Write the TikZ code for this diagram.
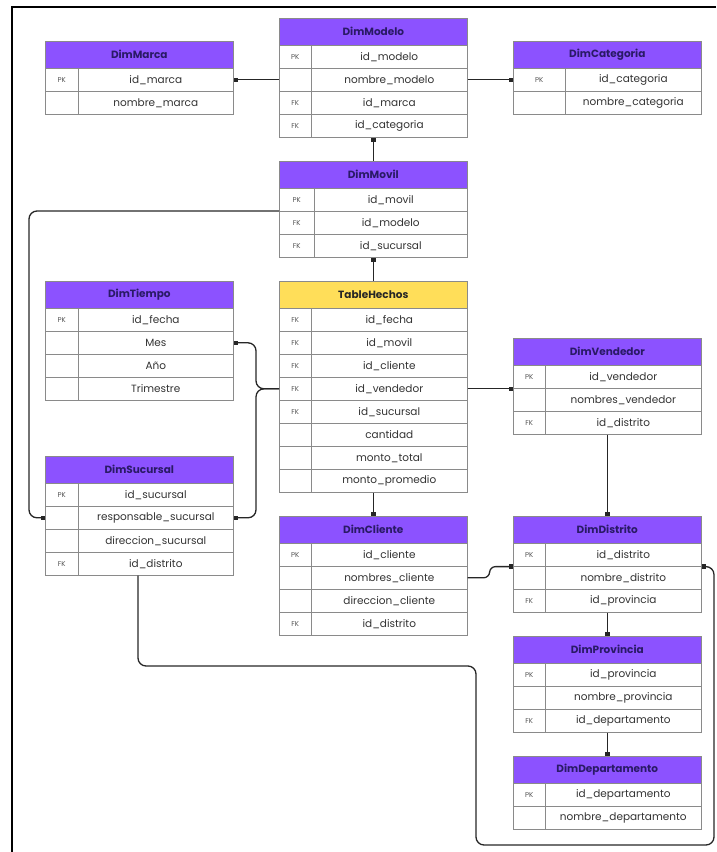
\documentclass[tikz,border=0pt]{standalone}
\usepackage{fontspec}
\setmainfont{Poppins}
\usetikzlibrary{arrows.meta,calc}
\definecolor{hdrpurple}{HTML}{8C52FF}
\definecolor{hdryellow}{HTML}{FFDE59}
\definecolor{hdrtext}{HTML}{2A1A66}
\definecolor{cellline}{HTML}{8A8A8A}
\definecolor{keytext}{HTML}{555555}
\definecolor{fieldtext}{HTML}{333333}
\tikzset{
 hdrcell/.style={draw=cellline, line width=0.6pt, minimum width=188pt, minimum height=27pt, inner sep=0pt, anchor=north west, font=\fontsize{10.5}{12}\selectfont\bfseries, text=hdrtext},
 keycell/.style={draw=cellline, line width=0.6pt, minimum height=23pt, inner sep=0pt, anchor=north west, font=\fontsize{7}{8}\selectfont, text=keytext, fill=white},
 fieldcell/.style={draw=cellline, line width=0.6pt, minimum height=23pt, inner sep=0pt, anchor=north west, font=\fontsize{10.5}{12}\selectfont, text=fieldtext, fill=white},
 link/.style={line width=1.3pt, black!85, rounded corners=8pt},
 dotA/.style={{Square[length=4.5pt,width=4.5pt]}-},
 dotB/.style={-{Square[length=4.5pt,width=4.5pt]}},
 frameline/.style={line width=2pt, black},
}
% #1 name, #2 x left, #3 y top, #4 key width, #5 header style, #6 title, #7 rows key/field
\newcommand{\ertable}[7]{%
 \node[hdrcell, #5] (#1) at (#2,#3) {#6};
 \foreach \k/\f [count=\i] in {#7} {%
   \pgfmathsetmacro{\yy}{#3+27+23*(\i-1)}%
   \pgfmathsetmacro{\xx}{#2+#4}%
   \pgfmathsetmacro{\ww}{188-#4}%
   \node[keycell, minimum width=#4pt] (#1-k\i) at (#2,\yy) {\k};
   \node[fieldcell, minimum width=\ww pt] (#1-\i) at (\xx,\yy) {\f};
 }%
}
\begin{document}
\begin{tikzpicture}[x=1pt,y=-1pt]
\useasboundingbox (0,0) rectangle (716,852);
\draw[frameline] (12,852) -- (12,7) -- (716,7);

\ertable{DimMarca}{45}{41}{33}{fill=hdrpurple}{DimMarca}{PK/id\_marca,{}/nombre\_marca}
\ertable{DimModelo}{279}{18}{32}{fill=hdrpurple}{DimModelo}{PK/id\_modelo,{}/nombre\_modelo,FK/id\_marca,FK/id\_categoria}
\ertable{DimCategoria}{513}{41}{52}{fill=hdrpurple}{DimCategoria}{PK/id\_categoria,{}/nombre\_categoria}
\ertable{DimMovil}{279}{161}{35}{fill=hdrpurple}{DimMovil}{PK/id\_movil,FK/id\_modelo,FK/id\_sucursal}
\ertable{Hechos}{279}{281}{32}{fill=hdryellow,text=black!85}{TableHechos}{FK/id\_fecha,FK/id\_movil,FK/id\_cliente,FK/id\_vendedor,FK/id\_sucursal,{}/cantidad,{}/monto\_total,{}/monto\_promedio}
\ertable{DimTiempo}{45}{281}{33}{fill=hdrpurple}{DimTiempo}{PK/id\_fecha,{}/Mes,{}/Año,{}/Trimestre}
\ertable{DimVendedor}{513}{338}{32}{fill=hdrpurple}{DimVendedor}{PK/id\_vendedor,{}/nombres\_vendedor,FK/id\_distrito}
\ertable{DimSucursal}{45}{456}{33}{fill=hdrpurple}{DimSucursal}{PK/id\_sucursal,{}/responsable\_sucursal,{}/direccion\_sucursal,FK/id\_distrito}
\ertable{DimCliente}{279}{516}{32}{fill=hdrpurple}{DimCliente}{PK/id\_cliente,{}/nombres\_cliente,{}/direccion\_cliente,FK/id\_distrito}
\ertable{DimDistrito}{513}{516}{32}{fill=hdrpurple}{DimDistrito}{PK/id\_distrito,{}/nombre\_distrito,FK/id\_provincia}
\ertable{DimProvincia}{513}{636}{32}{fill=hdrpurple}{DimProvincia}{PK/id\_provincia,{}/nombre\_provincia,FK/id\_departamento}
\ertable{DimDepartamento}{513}{756}{32}{fill=hdrpurple}{DimDepartamento}{PK/id\_departamento,{}/nombre\_departamento}

\coordinate (lv) at (29,0);
\coordinate (bx) at (256,0);
\coordinate (rx) at (714,845);
\coordinate (mx) at (476,666);
\coordinate (sx) at ($(DimSucursal-k4.south west)+(93,0)$);

\draw[link,dotA] (DimMarca-1.east) -- (DimMarca-1.east -| DimModelo.west);
\draw[link,dotB] (DimModelo-2.east) -- (DimModelo-2.east -| DimCategoria.west);
\draw[link,dotA] (DimModelo.center |- DimModelo-4.south) -- (DimMovil.north);
\draw[link,dotA] (DimMovil.center |- DimMovil-3.south) -- (Hechos.north);
\draw[link,dotB] (Hechos.center |- Hechos-8.south) -- (DimCliente.north);
\draw[link,dotB] (DimVendedor.center |- DimVendedor-3.south) -- (DimDistrito.north);
\draw[link,dotB] (DimDistrito.center |- DimDistrito-3.south) -- (DimProvincia.north);
\draw[link,dotB] (DimProvincia.center |- DimProvincia-3.south) -- (DimDepartamento.north);
\draw[link,dotB] (Hechos-4.east) -- (Hechos-4.east -| DimVendedor.west);
\draw[link,dotB] (DimMovil-k2.north west) -- (DimMovil-k2.north west -| lv) |- (DimSucursal-k2.west);
\draw[link,dotA] (DimTiempo-2.east) -- (DimTiempo-2.east -| bx) |- (Hechos-k4.west);
\draw[link,dotA] (DimSucursal-2.east) -- (DimSucursal-2.east -| bx) |- (Hechos-k4.west);
\draw[link,dotB,rounded corners=6pt] (DimCliente-2.east) -- ++(22,0) |- (DimDistrito-k1.south west);
\draw[link,dotA] (DimDistrito-1.south east) -| (rx) -| (mx) -| (sx);
\end{tikzpicture}
\end{document}
